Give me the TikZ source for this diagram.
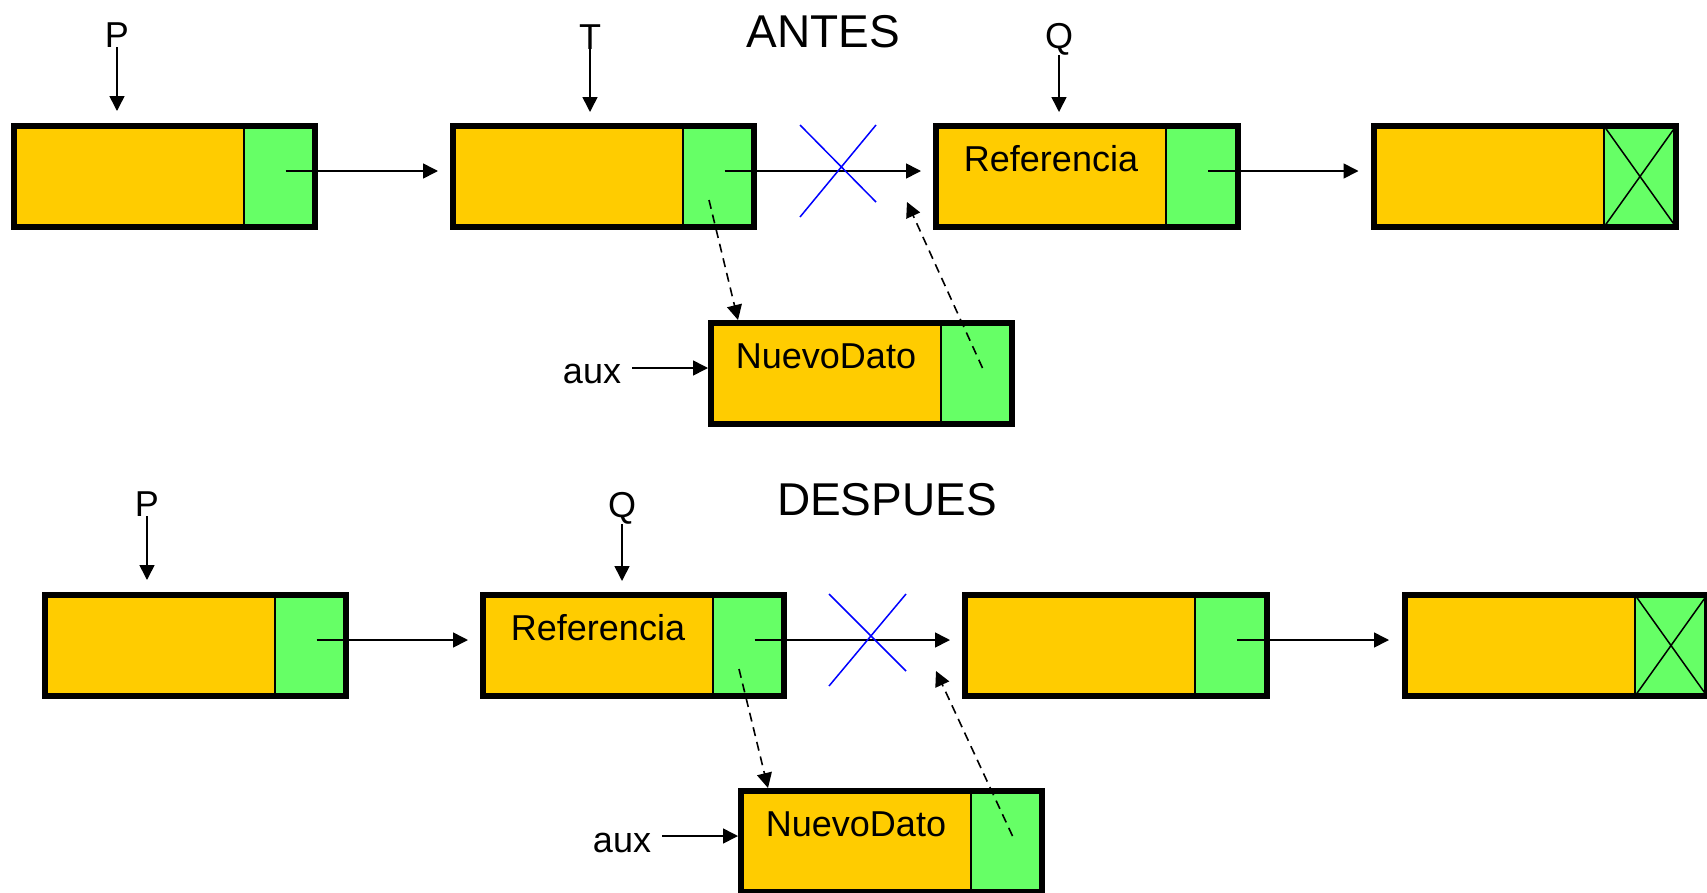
\documentclass[tikz,border=0pt]{standalone}
\usepackage{fontspec}
\setmainfont{Liberation Sans}
\usetikzlibrary{arrows.meta,calc}
\definecolor{dataorange}{HTML}{FFCC00}
\definecolor{ptrgreen}{HTML}{66FF66}
\definecolor{crossblue}{HTML}{0000FF}
\tikzset{
  datacell/.style={draw=black, line width=1.5bp, fill=dataorange, minimum width=230bp, minimum height=101bp, inner sep=0pt, outer sep=0pt, anchor=north west},
  ptrcell/.style={draw=black, line width=1.5bp, fill=ptrgreen, minimum width=#1, minimum height=101bp, inner sep=0pt, outer sep=0pt, anchor=north west},
  ptrcell/.default=71bp,
  frame/.style={draw=black, line width=5.5bp},
  lbl/.style={font=\fontsize{36bp}{40bp}\selectfont, inner sep=0pt, anchor=base},
  ttl/.style={font=\fontsize{46bp}{50bp}\selectfont, inner sep=0pt, anchor=base},
  link/.style={line width=1.6bp, -{Triangle[length=15bp,width=15bp]}},
  dlink/.style={link, dash pattern=on 9bp off 6bp},
  cross/.style={draw=crossblue, line width=1.5bp},
  nullmark/.style={draw=black, line width=1.5bp},
}
\newcommand\listcell[4][71bp]{%
  \node[datacell] (#2d) at (#3,#4) {};
  \node[ptrcell=#1] (#2p) at (#2d.north east) {};
  \draw[frame] (#2d.north west) rectangle (#2p.south east);
}
\begin{document}
\begin{tikzpicture}[x=1bp,y=-1bp]
\useasboundingbox (0,0) rectangle (1707,892);
\begin{scope}
\clip (0,0) rectangle (1707,892);
% ---------------- ANTES ----------------
\listcell{a1}{14}{126}
\listcell{a2}{453}{126}
\listcell[72bp]{a3}{936}{126}
\listcell[72bp]{a4}{1374}{126}
\listcell{an}{711}{323}
\node[lbl] (ta3) at ([yshift=-45bp]a3d.north) {Referencia};
\node[lbl] (tan) at ([yshift=-45bp]and.north) {NuevoDato};
\draw[nullmark] (a4p.north west) -- (a4p.south east) (a4p.north east) -- (a4p.south west);

\node[ttl] (antes) at (823,47) {ANTES};
\node[lbl] (aP) at (117,47) {P};
\node[lbl] (aT) at (590,49) {T};
\node[lbl] (aQ) at (1059,48) {Q};
\node[lbl] (aaux) at (592,383) {aux};

\draw[link, shorten >=15bp] (aP.south) -- (aP.south |- a1d.north);
\draw[link, shorten >=14bp] (aT.south) -- (aT.south |- a2d.north);
\draw[link, shorten >=14bp] (aQ.south) -- (aQ.south |- a3d.north);

\draw[link] ([xshift=6bp,yshift=5.5bp]a1p.center) -- ([xshift=-15bp,yshift=5.5bp]a2d.west);
\draw[link] ([xshift=6bp,yshift=5.5bp]a2p.center) -- ([xshift=-15bp,yshift=5.5bp]a3d.west);
\draw[link] ([xshift=6bp,yshift=5.5bp]a3p.center) -- ([xshift=-15.5bp,yshift=5.5bp]a4d.west);
\draw[cross] (800,125) -- (876,202) (800,217) -- (876,125);

\coordinate (ain) at ([yshift=5.5bp]and.west);
\draw[link, shorten <=11bp, shorten >=3bp] (aaux.east |- ain) -- (ain);
\draw[dlink] ([xshift=-9.5bp,yshift=-23.5bp]a2p.center) -- ([xshift=27bp,yshift=3bp]and.north west);
\draw[dlink] ([xshift=6bp,yshift=5.5bp]anp.center) -- ([xshift=-29bp,yshift=-25.5bp]a3d.west);

% ---------------- DESPUES ----------------
\listcell{b1}{45}{595}
\listcell{b2}{483}{595}
\listcell[72bp]{b3}{965}{595}
\listcell[72bp]{b4}{1405}{595}
\listcell{bn}{741}{791}
\node[lbl] (tb2) at ([yshift=-45bp]b2d.north) {Referencia};
\node[lbl] (tbn) at ([yshift=-45bp]bnd.north) {NuevoDato};
\draw[nullmark] (b4p.north west) -- (b4p.south east) (b4p.north east) -- (b4p.south west);

\node[ttl] (despues) at (887,515) {DESPUES};
\node[lbl] (bP) at (147,516) {P};
\node[lbl] (bQ) at (622,517) {Q};
\node[lbl] (baux) at (622,852) {aux};

\draw[link, shorten >=15bp] (bP.south) -- (bP.south |- b1d.north);
\draw[link, shorten >=14bp] (bQ.south) -- (bQ.south |- b2d.north);

\draw[link] ([xshift=6bp,yshift=5.5bp]b1p.center) -- ([xshift=-15bp,yshift=5.5bp]b2d.west);
\draw[link] ([xshift=6bp,yshift=5.5bp]b2p.center) -- ([xshift=-15bp,yshift=5.5bp]b3d.west);
\draw[link] ([xshift=6bp,yshift=5.5bp]b3p.center) -- ([xshift=-16bp,yshift=5.5bp]b4d.west);
\draw[cross] (829,594) -- (906,671) (829,686) -- (906,594);

\coordinate (bin) at ([yshift=5.5bp]bnd.west);
\draw[link, shorten <=11bp, shorten >=3bp] (baux.east |- bin) -- (bin);
\draw[dlink] ([xshift=-9.5bp,yshift=-23.5bp]b2p.center) -- ([xshift=27bp,yshift=3bp]bnd.north west);
\draw[dlink] ([xshift=6bp,yshift=5.5bp]bnp.center) -- ([xshift=-29bp,yshift=-25.5bp]b3d.west);
\end{scope}
\end{tikzpicture}
\end{document}
